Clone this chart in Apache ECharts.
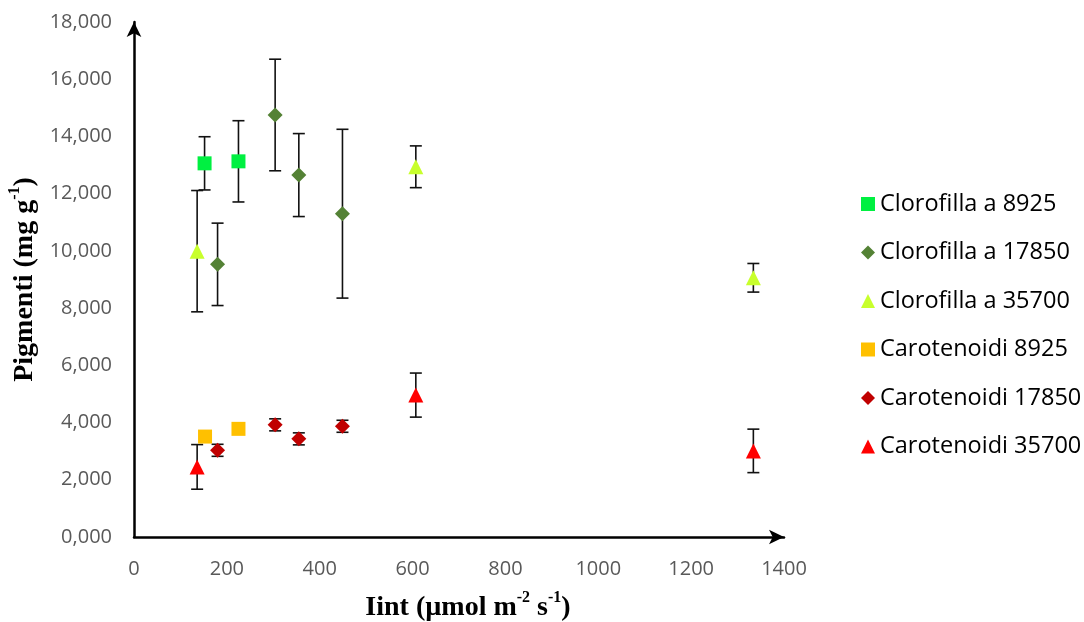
<!DOCTYPE html>
<html>
<head>
<meta charset="utf-8">
<script src="https://cdn.jsdelivr.net/npm/echarts@6/dist/echarts.min.js"></script>
<style>
html,body{margin:0;padding:0;background:#fff;}
#chart{width:1084px;height:622px;}
</style>
</head>
<body>
<div id="chart"></div>
<script>
// ---- data ----
const seriesNames = ['Clorofilla a 8925','Clorofilla a 17850','Clorofilla a 35700','Carotenoidi 8925','Carotenoidi 17850','Carotenoidi 35700'];
const chl8925_x = [152, 225];
const chl8925_y = [13.06, 13.13];
const chl8925_e = [0.93, 1.42];
const chl17850_x = [180, 304, 355, 449];
const chl17850_y = [9.53, 14.75, 12.65, 11.30];
const chl17850_e = [1.44, 1.95, 1.45, 2.95];
const chl35700_x = [136, 607, 1334];
const chl35700_y = [9.99, 12.94, 9.06];
const chl35700_e = [2.12, 0.73, 0.50];
const car8925_x = [153, 225];
const car8925_y = [3.51, 3.78];
const car8925_e = [0, 0];
const car17850_x = [180, 304, 355, 449];
const car17850_y = [3.03, 3.92, 3.43, 3.87];
const car17850_e = [0.21, 0.21, 0.21, 0.21];
const car35700_x = [136, 607, 1334];
const car35700_y = [2.45, 4.96, 3.01];
const car35700_e = [0.78, 0.77, 0.76];
const xTicks = [0, 200, 400, 600, 800, 1000, 1200, 1400];
const yTicks = [0, 2, 4, 6, 8, 10, 12, 14, 16, 18];

const groups = [
  {name: seriesNames[0], x: chl8925_x, y: chl8925_y, e: chl8925_e, symbol: 'rect', color: '#00F041', size: 14},
  {name: seriesNames[1], x: chl17850_x, y: chl17850_y, e: chl17850_e, symbol: 'diamond', color: '#548235', size: 15},
  {name: seriesNames[2], x: chl35700_x, y: chl35700_y, e: chl35700_e, symbol: 'triangle', color: '#C8FF2C', size: 15},
  {name: seriesNames[3], x: car8925_x, y: car8925_y, e: car8925_e, symbol: 'rect', color: '#FFC000', size: 14},
  {name: seriesNames[4], x: car17850_x, y: car17850_y, e: car17850_e, symbol: 'diamond', color: '#C00000', size: 15},
  {name: seriesNames[5], x: car35700_x, y: car35700_y, e: car35700_e, symbol: 'triangle', color: '#FF0000', size: 15}
];

const errData = [];
groups.forEach(g => g.x.forEach((xv, i) => { if (g.e[i] > 0) errData.push([xv, g.y[i], g.e[i]]); }));

const scatterSeries = groups.map(g => ({
  name: g.name,
  type: 'scatter',
  symbol: g.symbol,
  symbolSize: g.size,
  itemStyle: {color: g.color, opacity: 1},
  z: 5,
  data: g.x.map((xv, i) => [xv, g.y[i]])
}));

const errSeries = {
  type: 'custom',
  name: 'err',
  z: 3,
  silent: true,
  data: errData,
  renderItem: function (params, api) {
    const x = api.value(0), y = api.value(1), e = api.value(2);
    const top = api.coord([x, y + e]);
    const bot = api.coord([x, y - e]);
    const hw = 6;
    const st = {stroke: '#111', lineWidth: 1.6};
    return {
      type: 'group',
      children: [
        {type: 'line', shape: {x1: top[0], y1: top[1], x2: bot[0], y2: bot[1]}, style: st},
        {type: 'line', shape: {x1: top[0] - hw, y1: top[1], x2: top[0] + hw, y2: top[1]}, style: st},
        {type: 'line', shape: {x1: bot[0] - hw, y1: bot[1], x2: bot[0] + hw, y2: bot[1]}, style: st}
      ]
    };
  }
};

const titleRich = {
  t: {fontFamily: 'Liberation Serif', fontWeight: 'bold', fontSize: 28, color: '#000', lineHeight: 32, verticalAlign: 'bottom'},
  s: {fontFamily: 'Liberation Serif', fontWeight: 'bold', fontSize: 16, color: '#000', lineHeight: 32, verticalAlign: 'top'}
};

const chart = echarts.init(document.getElementById('chart'), null, {renderer: 'canvas'});
chart.setOption({
  animation: false,
  backgroundColor: '#fff',
  grid: {left: 134, right: 300, top: 22, bottom: 85, containLabel: false, outerBoundsMode: 'none'},
  legend: {
    orient: 'vertical',
    left: 856,
    top: 186,
    itemWidth: 14,
    itemHeight: 14,
    itemGap: 22.5,
    data: seriesNames,
    textStyle: {fontFamily: 'Open Sans', fontSize: 23.5, color: '#000', lineHeight: 26}
  },
  xAxis: {
    type: 'value',
    min: xTicks[0],
    max: xTicks[xTicks.length - 1],
    interval: 200,
    splitLine: {show: false},
    axisTick: {show: false},
    axisLine: {show: true, onZero: false, lineStyle: {color: '#000', width: 2.5}, symbol: ['none', 'arrow'], symbolSize: [11, 15]},
    axisLabel: {color: '#595959', fontFamily: 'Open Sans', fontSize: 20, margin: 22, formatter: v => String(v)},
    name: '{t|Iint (µmol m}{s|-2}{t| s}{s|-1}{t|)}',
    nameLocation: 'middle',
    nameGap: 53,
    nameTextStyle: {rich: titleRich, padding: [0, 0, 0, 18]}
  },
  yAxis: {
    type: 'value',
    min: yTicks[0],
    max: yTicks[yTicks.length - 1],
    interval: 2,
    splitLine: {show: false},
    axisTick: {show: false},
    axisLine: {show: true, onZero: false, lineStyle: {color: '#000', width: 2.5}, symbol: ['none', 'arrow'], symbolSize: [11, 15]},
    axisLabel: {
      color: '#595959', fontFamily: 'Open Sans', fontSize: 20, margin: 22,
      formatter: v => v.toFixed(3).replace('.', ',')
    },
    name: '{t|Pigmenti (mg g}{s|-1}{t|)}',
    nameLocation: 'middle',
    nameRotate: 90,
    nameGap: 91,
    nameTextStyle: {rich: titleRich}
  },
  series: [errSeries].concat(scatterSeries)
});
</script>
</body>
</html>
